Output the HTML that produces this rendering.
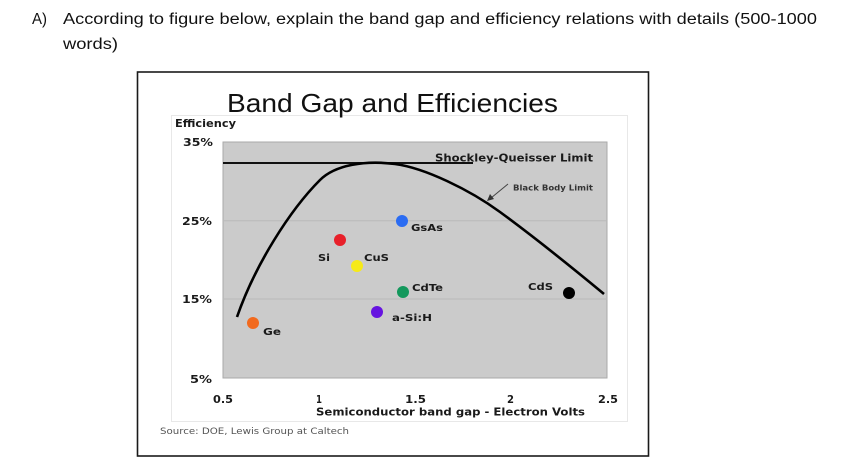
<!DOCTYPE html>
<html>
<head>
<meta charset="utf-8">
<style>
html,body{margin:0;padding:0;background:#fff;}
svg{display:block;}
</style>
</head>
<body>
<svg width="847" height="471" viewBox="0 0 847 471" xmlns="http://www.w3.org/2000/svg">
  <rect x="0" y="0" width="847" height="471" fill="#ffffff"/>

  <!-- Question text -->
  <g font-family="Liberation Sans, Arial, sans-serif" font-size="15.5" fill="#111">
    <text x="32" y="24" textLength="15" lengthAdjust="spacingAndGlyphs">A)</text>
    <text x="63" y="24" textLength="754" lengthAdjust="spacingAndGlyphs">According to figure below, explain the band gap and efficiency relations with details (500-1000</text>
    <text x="63" y="49" textLength="55" lengthAdjust="spacingAndGlyphs">words)</text>
  </g>

  <!-- Outer frame -->
  <rect x="137.5" y="72" width="511" height="384" fill="#ffffff" stroke="#1a1a1a" stroke-width="1.6"/>

  <!-- Inner faint box -->
  <rect x="171.5" y="115.5" width="456" height="306" fill="#ffffff" stroke="#e8e8e8" stroke-width="1"/>

  <!-- Title -->
  <text x="227" y="112" font-family="Liberation Sans, Arial, sans-serif" font-size="26" fill="#111" textLength="331" lengthAdjust="spacingAndGlyphs">Band Gap and Efficiencies</text>

  <!-- Plot area -->
  <rect x="223" y="142" width="384" height="236" fill="#cbcbcb" stroke="#a9a9a9" stroke-width="1"/>
  <line x1="223" y1="220.7" x2="607" y2="220.7" stroke="#b9b9b9" stroke-width="1"/>
  <line x1="223" y1="299" x2="607" y2="299" stroke="#b9b9b9" stroke-width="1"/>

  <!-- Axis labels -->
  <g font-family="DejaVu Sans, Verdana, sans-serif" font-weight="bold" font-size="10.5" fill="#1a1a1a">
    <text x="175" y="127" textLength="61" lengthAdjust="spacingAndGlyphs">Efficiency</text>
    <text x="183" y="146" textLength="30" lengthAdjust="spacingAndGlyphs">35%</text>
    <text x="182" y="225" textLength="30" lengthAdjust="spacingAndGlyphs">25%</text>
    <text x="182" y="303" textLength="30" lengthAdjust="spacingAndGlyphs">15%</text>
    <text x="190" y="383" textLength="22" lengthAdjust="spacingAndGlyphs">5%</text>

    <text x="213" y="403" textLength="20" lengthAdjust="spacingAndGlyphs">0.5</text>
    <text x="316" y="403" textLength="6" lengthAdjust="spacingAndGlyphs">1</text>
    <text x="405" y="403" textLength="21" lengthAdjust="spacingAndGlyphs">1.5</text>
    <text x="507" y="403" textLength="7" lengthAdjust="spacingAndGlyphs">2</text>
    <text x="598" y="403" textLength="20" lengthAdjust="spacingAndGlyphs">2.5</text>
    <text x="316" y="415.5" font-size="11" textLength="269" lengthAdjust="spacingAndGlyphs">Semiconductor band gap - Electron Volts</text>
  </g>

  <!-- Source -->
  <text x="160" y="434" font-family="DejaVu Sans, Verdana, sans-serif" font-size="8.5" fill="#555" textLength="189" lengthAdjust="spacingAndGlyphs">Source: DOE,  Lewis Group at Caltech</text>

  <!-- Shockley-Queisser line -->
  <line x1="223" y1="163" x2="473" y2="163" stroke="#111" stroke-width="2"/>
  <text x="435" y="161.5" font-family="DejaVu Sans, Verdana, sans-serif" font-weight="bold" font-size="10.5" fill="#1a1a1a" textLength="158" lengthAdjust="spacingAndGlyphs">Shockley-Queisser Limit</text>

  <!-- Black body curve -->
  <path fill="none" stroke="#000" stroke-width="2.6" stroke-linejoin="round"
    d="M237,317 C255,265 290,210 320,180 C335,165 365,160 395,164 C425,168 470,190 500,212 C530,234 575,270 604,294"/>

  <!-- Black Body Limit arrow -->
  <line x1="508" y1="184" x2="491" y2="198" stroke="#444" stroke-width="1"/>
  <polygon points="487,201 490,194 494,199" fill="#333"/>
  <text x="513" y="190.5" font-family="DejaVu Sans, Verdana, sans-serif" font-weight="bold" font-size="7.5" fill="#333" textLength="80" lengthAdjust="spacingAndGlyphs">Black Body Limit</text>

  <!-- Data points -->
  <circle cx="253" cy="323" r="6" fill="#f26a1e"/>
  <circle cx="340" cy="240" r="6" fill="#e8202a"/>
  <circle cx="357" cy="266" r="6" fill="#f6ea18"/>
  <circle cx="402" cy="221" r="6" fill="#2b6cf2"/>
  <circle cx="403" cy="292" r="6" fill="#13985c"/>
  <circle cx="377" cy="312" r="6" fill="#6613e0"/>
  <circle cx="569" cy="293" r="6" fill="#000000"/>

  <!-- Point labels -->
  <g font-family="DejaVu Sans, Verdana, sans-serif" font-weight="bold" font-size="10" fill="#1a1a1a">
    <text x="263" y="335" textLength="18" lengthAdjust="spacingAndGlyphs">Ge</text>
    <text x="318" y="261" textLength="12" lengthAdjust="spacingAndGlyphs">Si</text>
    <text x="364" y="261" textLength="25" lengthAdjust="spacingAndGlyphs">CuS</text>
    <text x="411" y="231" textLength="32" lengthAdjust="spacingAndGlyphs">GsAs</text>
    <text x="412" y="291" textLength="31" lengthAdjust="spacingAndGlyphs">CdTe</text>
    <text x="392" y="321" textLength="40" lengthAdjust="spacingAndGlyphs">a-Si:H</text>
    <text x="528" y="290" textLength="25" lengthAdjust="spacingAndGlyphs">CdS</text>
  </g>
</svg>
</body>
</html>
